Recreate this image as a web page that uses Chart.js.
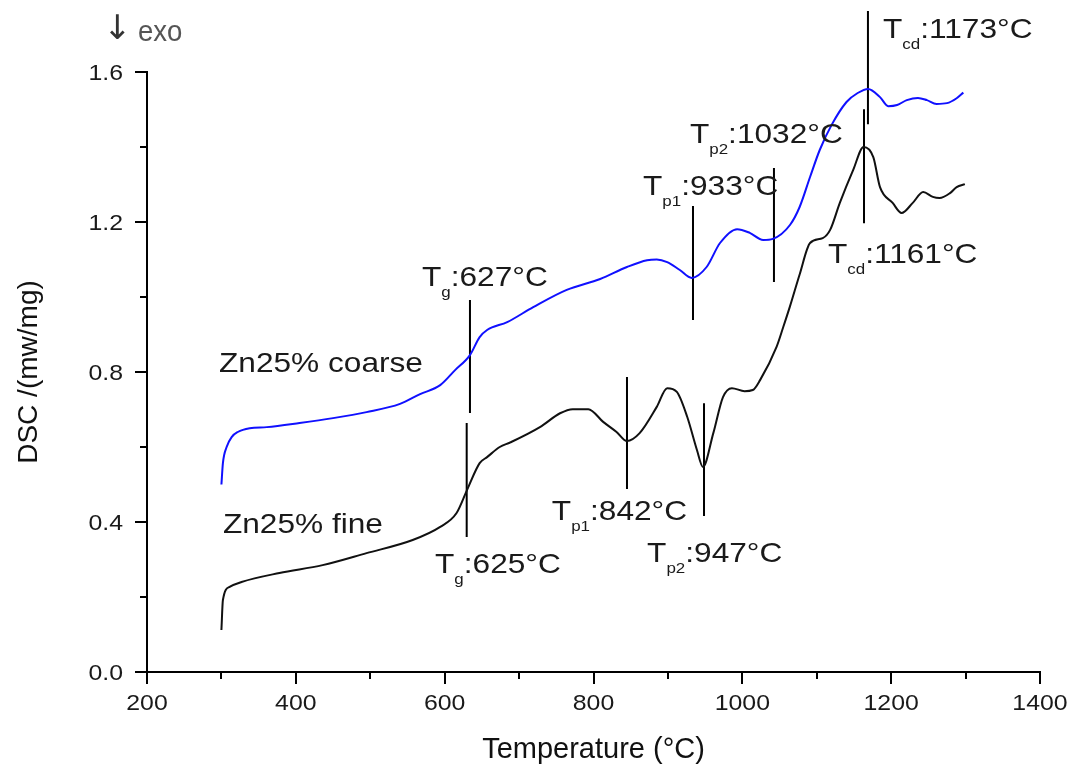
<!DOCTYPE html>
<html><head><meta charset="utf-8">
<script src="https://cdn.jsdelivr.net/npm/chart.js@4.4.1/dist/chart.umd.min.js"></script>
<style>html,body{margin:0;padding:0;background:#fff;}#wrap{width:1072px;height:767px;}</style>
</head><body><div id="wrap"><canvas id="c" width="1072" height="767"></canvas></div>
<script>
// ---- data ----
const coarseTemp = [300,302,307,314,322,338,361,405,450,495,540,567,594,614,634,647,657,684,719,764,809,845,872,885,899,916,932,952,970,993,1010,1028,1041,1064,1077,1091,1104,1120,1140,1155,1169,1185,1196,1208,1221,1236,1248,1261,1275,1288,1297];
const coarseDsc  = [0.50,0.557,0.60,0.627,0.640,0.650,0.653,0.664,0.677,0.693,0.715,0.741,0.765,0.805,0.845,0.893,0.912,0.933,0.973,1.019,1.048,1.080,1.098,1.100,1.093,1.072,1.051,1.080,1.144,1.181,1.171,1.152,1.155,1.192,1.240,1.320,1.392,1.459,1.520,1.544,1.555,1.533,1.509,1.512,1.525,1.531,1.525,1.515,1.517,1.530,1.545];
const fineTemp = [300,302,311,327,378,436,495,557,594,616,630,647,657,674,688,728,755,772,793,813,831,845,862,885,899,912,926,939,947,961,974,986,1003,1014,1024,1046,1055,1064,1077,1091,1108,1118,1131,1149,1163,1176,1185,1202,1214,1229,1243,1256,1265,1279,1288,1299];
const fineDsc  = [0.112,0.192,0.227,0.240,0.264,0.285,0.317,0.352,0.387,0.424,0.485,0.557,0.573,0.600,0.612,0.653,0.690,0.701,0.701,0.667,0.640,0.616,0.637,0.707,0.757,0.747,0.680,0.592,0.547,0.637,0.733,0.757,0.749,0.752,0.779,0.867,0.920,0.975,1.060,1.144,1.157,1.179,1.251,1.339,1.400,1.373,1.293,1.251,1.224,1.251,1.280,1.267,1.264,1.277,1.293,1.301];

// characteristic temperature marker lines
const markerTemp   = [634, 629.6, 845, 948.5, 933.7, 1042.5, 1163.5, 1168.8];
const markerTop    = [0.992, 0.664, 0.787, 0.717, 1.243, 1.344, 1.501, 1.763];
const markerBottom = [0.691, 0.360, 0.488, 0.416, 0.939, 1.040, 1.197, 1.461];

// annotation labels ("_" prefix = subscript part)
const labelParts = [
  ['T','_g',':627°C'],
  ['T','_g',':625°C'],
  ['T','_p1',':842°C'],
  ['T','_p2',':947°C'],
  ['T','_p1',':933°C'],
  ['T','_p2',':1032°C'],
  ['T','_cd',':1161°C'],
  ['T','_cd',':1173°C'],
  ['Zn25% coarse'],
  ['Zn25% fine']
];
const labelTemp = [569.5, 587, 744, 872, 866.5, 929.6, 1115, 1189, 296.7, 302];
const labelDsc  = [1.029, 0.264, 0.405, 0.293, 1.272, 1.411, 1.091, 1.691, 0.800, 0.371];

// axis ticks
const xMajorTicks = [200,400,600,800,1000,1200,1400];
const xMinorTicks = [300,500,700,900,1100,1300];
const xTickLabels = ['200','400','600','800','1000','1200','1400'];
const yMajorTicks = [0,0.4,0.8,1.2,1.6];
const yMinorTicks = [0.2,0.6,1.0,1.4];
const yTickLabels = ['0.0','0.4','0.8','1.2','1.6'];

// ---- chart ----
const FONT = '"Liberation Sans", Arial, sans-serif';
const SX = 1.13;

const datasets = [
  {data: coarseTemp.map((t,i)=>({x:t,y:coarseDsc[i]})), borderColor:'#1010ff', borderWidth:2, cubicInterpolationMode:'monotone'},
  {data: fineTemp.map((t,i)=>({x:t,y:fineDsc[i]})), borderColor:'#111111', borderWidth:2, cubicInterpolationMode:'monotone'}
];
markerTemp.forEach((t,i)=>{
  datasets.push({data:[{x:t,y:markerTop[i]},{x:t,y:markerBottom[i]}], borderColor:'#000', borderWidth:2, clip:false});
});

function drawScaled(ctx, text, x, y, font, align){
  ctx.save();
  ctx.translate(x,y); ctx.scale(SX,1);
  ctx.font = font; ctx.textAlign = align; ctx.textBaseline = 'alphabetic';
  ctx.fillText(text,0,0);
  ctx.restore();
}

const decor = {
  id:'decor',
  afterDraw(chart){
    const ctx = chart.ctx, xs = chart.scales.x, ys = chart.scales.y;
    const ca = chart.chartArea;
    ctx.save();
    ctx.strokeStyle = '#000'; ctx.lineWidth = 2; ctx.lineCap = 'butt';
    // tick marks
    ctx.beginPath();
    xMajorTicks.forEach(v=>{const p=Math.round(xs.getPixelForValue(v)); ctx.moveTo(p,ca.bottom); ctx.lineTo(p,ca.bottom+12);});
    xMinorTicks.forEach(v=>{const p=Math.round(xs.getPixelForValue(v)); ctx.moveTo(p,ca.bottom); ctx.lineTo(p,ca.bottom+7);});
    yMajorTicks.forEach(v=>{const p=Math.round(ys.getPixelForValue(v)); ctx.moveTo(ca.left,p); ctx.lineTo(ca.left-12,p);});
    yMinorTicks.forEach(v=>{const p=Math.round(ys.getPixelForValue(v)); ctx.moveTo(ca.left,p); ctx.lineTo(ca.left-7,p);});
    ctx.stroke();
    // tick labels
    ctx.fillStyle = '#1a1a1a';
    xMajorTicks.forEach((v,i)=>drawScaled(ctx, xTickLabels[i], xs.getPixelForValue(v), ca.bottom+38, '22px '+FONT, 'center'));
    yMajorTicks.forEach((v,i)=>drawScaled(ctx, yTickLabels[i], ca.left-24, ys.getPixelForValue(v)+7.5, '22px '+FONT, 'right'));
    // annotation labels
    labelParts.forEach((parts,i)=>{
      const px = xs.getPixelForValue(labelTemp[i]), py = ys.getPixelForValue(labelDsc[i]);
      ctx.save(); ctx.translate(px,py); ctx.scale(SX,1);
      ctx.textAlign='left'; ctx.textBaseline='alphabetic'; ctx.fillStyle='#1a1a1a';
      let cx = 0;
      parts.forEach(p=>{
        const sub = p.startsWith('_'); const t = sub ? p.slice(1) : p;
        ctx.font = (sub ? '15px ' : '28px ') + FONT;
        ctx.fillText(t, cx, sub ? 11 : 0);
        cx += ctx.measureText(t).width;
      });
      ctx.restore();
    });
    // exo marker
    ctx.fillStyle = '#333';
    ctx.font = '34px "DejaVu Sans", sans-serif'; ctx.textAlign='left';
    ctx.fillText('↓', 103, 39);
    ctx.fillStyle = '#555';
    ctx.save(); ctx.translate(138,41); ctx.scale(0.95,1);
    ctx.font = '29px '+FONT; ctx.fillText('exo',0,0);
    ctx.restore();
    ctx.restore();
  }
};

new Chart(document.getElementById('c'), {
  type:'line',
  data:{datasets},
  options:{
    responsive:false, animation:false, devicePixelRatio:1,
    layout:{padding:{left:0,right:32,top:72,bottom:0}},
    elements:{point:{radius:0}, line:{tension:0}},
    plugins:{legend:{display:false}, tooltip:{enabled:false}},
    scales:{
      x:{type:'linear', min:200, max:1400,
         afterBuildTicks:s=>{ s.ticks = xMajorTicks.concat(xMinorTicks).sort((a,b)=>a-b).map(v=>({value:v})); },
         afterFit:s=>{ s.height = 95; },
         grid:{display:false}, border:{display:true,color:'#000',width:2},
         ticks:{display:false},
         title:{display:true, text:'Temperature (°C)', color:'#111', font:{family:FONT,size:29}, padding:{top:0,bottom:0}}},
      y:{type:'linear', min:0, max:1.6,
         afterBuildTicks:s=>{ s.ticks = yMajorTicks.concat(yMinorTicks).sort((a,b)=>a-b).map(v=>({value:v})); },
         afterFit:s=>{ s.width = 147; },
         grid:{display:false}, border:{display:true,color:'#000',width:2},
         ticks:{display:false},
         title:{display:true, text:'DSC /(mw/mg)', color:'#111', font:{family:FONT,size:28}, padding:{top:12,bottom:0}}}
    }
  },
  plugins:[decor]
});
</script></body></html>
